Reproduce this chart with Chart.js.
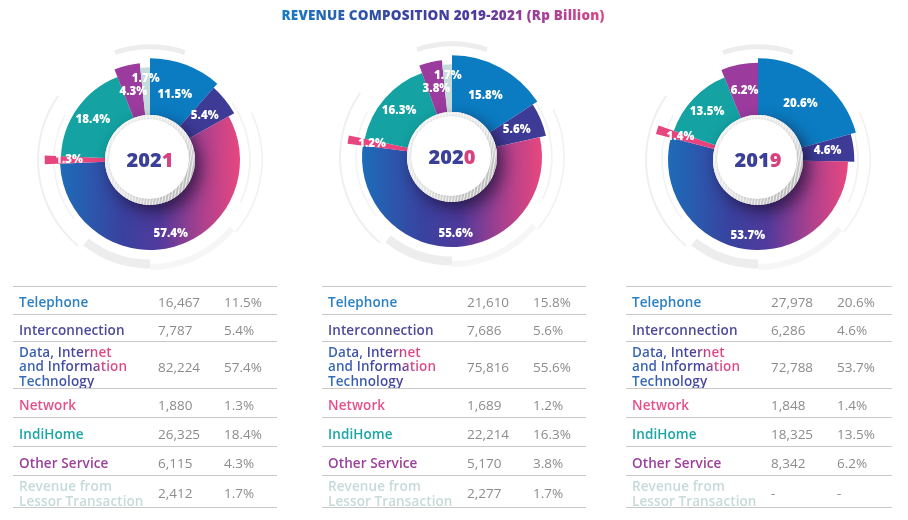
<!DOCTYPE html>
<html>
<head>
<meta charset="utf-8">
<script src="https://cdn.jsdelivr.net/npm/chart.js@4.4.0/dist/chart.umd.min.js"></script>
<style>
  body { margin: 0; background: #fff; width: 908px; height: 520px; overflow: hidden; position: relative; font-family: "Open Sans", sans-serif; }
  #title { position: absolute; top: 5px; left: 0; width: 886px; text-align: center; font-size: 13.5px; font-weight: 800; line-height: 20px; letter-spacing: 0.2px; }
  #title span { background: linear-gradient(90deg, #1b7cc4 0%, #35469f 35%, #4d3a9b 60%, #8a3d99 72%, #d9468a 100%); -webkit-background-clip: text; background-clip: text; color: transparent; }
  canvas { position: absolute; }
  .tbl { position: absolute; top: 285.5px; border-top: 1.5px solid #c8c8c8; }
  .row { position: relative; border-bottom: 1.5px solid #c8c8c8; }
  .row span { position: absolute; top: calc(50% + 2px); transform: translateY(-50%); font-size: 13.5px; line-height: 14.5px; white-space: pre-line; }
  .lab { left: 6px; font-weight: 600; letter-spacing: 0.1px; }
  .num { left: 145px; color: #8c8c8c; }
  .pct { left: 211px; color: #8c8c8c; }
  .grad { background: linear-gradient(60deg, #2f72bb 0%, #3f4aa3 45%, #4a3f9c 64%, #d64a88 73%, #e64a83 100%); -webkit-background-clip: text; background-clip: text; color: transparent; }
</style>
</head>
<body>
<div id="title"><span>REVENUE COMPOSITION 2019-2021 (Rp Billion)</span></div>
<canvas id="c2021" width="300" height="260" style="left:0px;top:30px"></canvas>
<canvas id="c2020" width="300" height="260" style="left:302px;top:27px"></canvas>
<canvas id="c2019" width="300" height="260" style="left:608px;top:30px"></canvas>
<div id="t2021" class="tbl" style="left:13px;width:264px"></div>
<div id="t2020" class="tbl" style="left:322px;width:264px"></div>
<div id="t2019" class="tbl" style="left:626px;width:266px"></div>
<script>
const years = ['2021', '2020', '2019'];
const categories = [
  'Telephone',
  'Interconnection',
  'Data, Internet\nand Information\nTechnology',
  'Network',
  'IndiHome',
  'Other Service',
  'Revenue from\nLessor Transaction'
];
const revenue2021 = [16467, 7787, 82224, 1880, 26325, 6115, 2412];
const share2021 = [11.5, 5.4, 57.4, 1.3, 18.4, 4.3, 1.7];
const revenue2020 = [21610, 7686, 75816, 1689, 22214, 5170, 2277];
const share2020 = [15.8, 5.6, 55.6, 1.2, 16.3, 3.8, 1.7];
const revenue2019 = [27978, 6286, 72788, 1848, 18325, 8342, null];
const share2019 = [20.6, 4.6, 53.7, 1.4, 13.5, 6.2, null];

const revenueByYear = [revenue2021, revenue2020, revenue2019];
const shareByYear = [share2021, share2020, share2019];

// styling
const sliceColors = ['#0b7cc2', '#3e3b97', null, '#e8457f', '#14a2a2', '#9a3b9d', '#c6dcdc'];
const labelColors = ['#2b80c3', '#4c4a9c', null, '#e4508a', '#1aa5a7', '#9a3f9c', '#c6dada'];
const radiusFactor = [1.13, 1.07, 1.0, 1.17, 0.99, 1.08, 1.03];
const rowHeights = [27.5, 25.5, 46.5, 27.5, 28.5, 27.5, 31.5];

// faint rings around each donut: [radius, width, from deg, to deg, colour] (deg clockwise from top)
const decor = [
  [113, 5, -18, 18, '#ededed'],
  [100, 1.5, 55, 115, '#f1f1f1'],
  [112, 1.5, 65, 130, '#f1f1f1'],
  [112, 2, 220, 305, '#efefef'],
  [96, 1.5, 232, 298, '#f3f3f3'],
  [104, 9, 180, 218, '#ededed'],
  [107, 6, 130, 180, '#f6f6f6']
];

function sliceColor(ctx) {
  if (ctx.dataIndex !== 2) return sliceColors[ctx.dataIndex];
  const area = ctx.chart.chartArea;
  if (!area) return '#4a3a9a';
  const g = ctx.chart.ctx.createLinearGradient(area.left, 0, area.right, 0);
  g.addColorStop(0, '#1d6cb9');
  g.addColorStop(0.35, '#3a419f');
  g.addColorStop(0.55, '#503a9c');
  g.addColorStop(0.78, '#a8408f');
  g.addColorStop(1, '#e8477f');
  return g;
}

const donutDecor = {
  id: 'donutDecor',
  afterDatasetUpdate(chart, args) {
    const meta = args.meta;
    const base = meta.controller.outerRadius;
    meta.data.forEach((arc, i) => { arc.outerRadius = base * radiusFactor[i]; });
  },
  beforeDatasetsDraw(chart) {
    const meta = chart.getDatasetMeta(0);
    const arc = meta.data[0];
    const s = meta.controller.outerRadius / 90;
    const c = chart.ctx;
    c.save();
    decor.forEach(([r, w, a0, a1, col]) => {
      c.beginPath();
      c.strokeStyle = col;
      c.lineWidth = w * s;
      c.arc(arc.x, arc.y, r * s, (a0 - 90) * Math.PI / 180, (a1 - 90) * Math.PI / 180);
      c.stroke();
    });
    c.restore();
  },
  afterDatasetsDraw(chart, args, opts) {
    const meta = chart.getDatasetMeta(0);
    const base = meta.controller.outerRadius;
    const cx = meta.data[0].x, cy = meta.data[0].y;
    const c = chart.ctx;
    const rd = base * 0.5;

    // centre disc with drop shadow
    c.save();
    c.shadowColor = 'rgba(20,10,40,0.65)';
    c.shadowBlur = 16;
    c.shadowOffsetX = 6;
    c.shadowOffsetY = 7;
    c.beginPath(); c.arc(cx, cy, rd, 0, Math.PI * 2);
    c.fillStyle = '#d0d0d0'; c.fill();
    c.restore();

    c.save();
    const rim = c.createLinearGradient(cx - rd, cy - rd, cx + rd, cy + rd);
    rim.addColorStop(0, '#f7f7f7');
    rim.addColorStop(0.55, '#e4e4e4');
    rim.addColorStop(1, '#a9a9a9');
    c.beginPath(); c.arc(cx, cy, rd, 0, Math.PI * 2);
    c.fillStyle = rim; c.fill();
    c.clip();
    c.strokeStyle = 'rgba(255,255,255,0.8)';
    c.lineWidth = 1;
    for (let k = -rd * 2; k < rd * 2; k += 3) {
      c.beginPath();
      c.moveTo(cx + k, cy - rd);
      c.lineTo(cx + k - rd * 0.35, cy + rd);
      c.stroke();
    }
    c.restore();

    c.save();
    c.beginPath(); c.arc(cx - 1, cy - 1, rd - 5, 0, Math.PI * 2);
    c.shadowColor = 'rgba(0,0,0,0.12)'; c.shadowBlur = 3;
    c.fillStyle = '#ffffff'; c.fill();
    c.restore();

    // year in the middle, last digit pink
    c.save();
    c.font = '800 20px "Open Sans", sans-serif';
    c.textBaseline = 'middle';
    const year = opts.year;
    const head = year.slice(0, 3), tail = year.slice(3);
    const wHead = c.measureText(head).width, wTail = c.measureText(tail).width;
    const x0 = cx - (wHead + wTail) / 2;
    c.fillStyle = '#3a3f98';
    c.fillText(head, x0, cy + 1);
    c.fillStyle = '#d8417f';
    c.fillText(tail, x0 + wHead, cy + 1);
    c.restore();

    // share labels
    c.save();
    c.font = '800 11.5px "Open Sans", sans-serif';
    c.fillStyle = '#ffffff';
    c.textAlign = 'center';
    c.textBaseline = 'middle';
    meta.data.forEach((arc, i) => {
      const v = opts.shares[i];
      if (v == null) return;
      const mid = (arc.startAngle + arc.endAngle) / 2;
      const r = base * (v < 2.5 ? 0.9 : v > 50 ? 0.85 : 0.78);
      c.fillText(v.toFixed(1) + '%', cx + Math.cos(mid) * r, cy + Math.sin(mid) * r);
    });
    c.restore();
  }
};

function makeDonut(yi) {
  new Chart(document.getElementById('c' + years[yi]), {
    type: 'doughnut',
    data: {
      labels: categories,
      datasets: [{
        data: revenueByYear[yi],
        backgroundColor: sliceColor,
        borderWidth: 0,
        clip: false
      }]
    },
    options: {
      responsive: false,
      animation: false,
      events: [],
      cutout: '50%',
      layout: { padding: { left: 60, right: 60, top: 40, bottom: 40 } },
      plugins: {
        legend: { display: false },
        tooltip: { enabled: false },
        donutDecor: { year: years[yi], shares: shareByYear[yi] }
      }
    },
    plugins: [donutDecor]
  });
}

function makeTable(yi) {
  const box = document.getElementById('t' + years[yi]);
  const rev = revenueByYear[yi], sh = shareByYear[yi];
  categories.forEach((cat, i) => {
    const row = document.createElement('div');
    row.className = 'row';
    row.style.height = rowHeights[i] + 'px';
    const lab = document.createElement('span');
    lab.className = 'lab' + (i === 2 ? ' grad' : '');
    if (labelColors[i]) lab.style.color = labelColors[i];
    lab.textContent = cat;
    const num = document.createElement('span');
    num.className = 'num';
    num.textContent = rev[i] == null ? '-' : rev[i].toLocaleString('en-US');
    const pct = document.createElement('span');
    pct.className = 'pct';
    pct.textContent = sh[i] == null ? '-' : sh[i].toFixed(1) + '%';
    row.append(lab, num, pct);
    box.appendChild(row);
  });
}

years.forEach((y, i) => { makeDonut(i); makeTable(i); });
</script>
</body>
</html>
